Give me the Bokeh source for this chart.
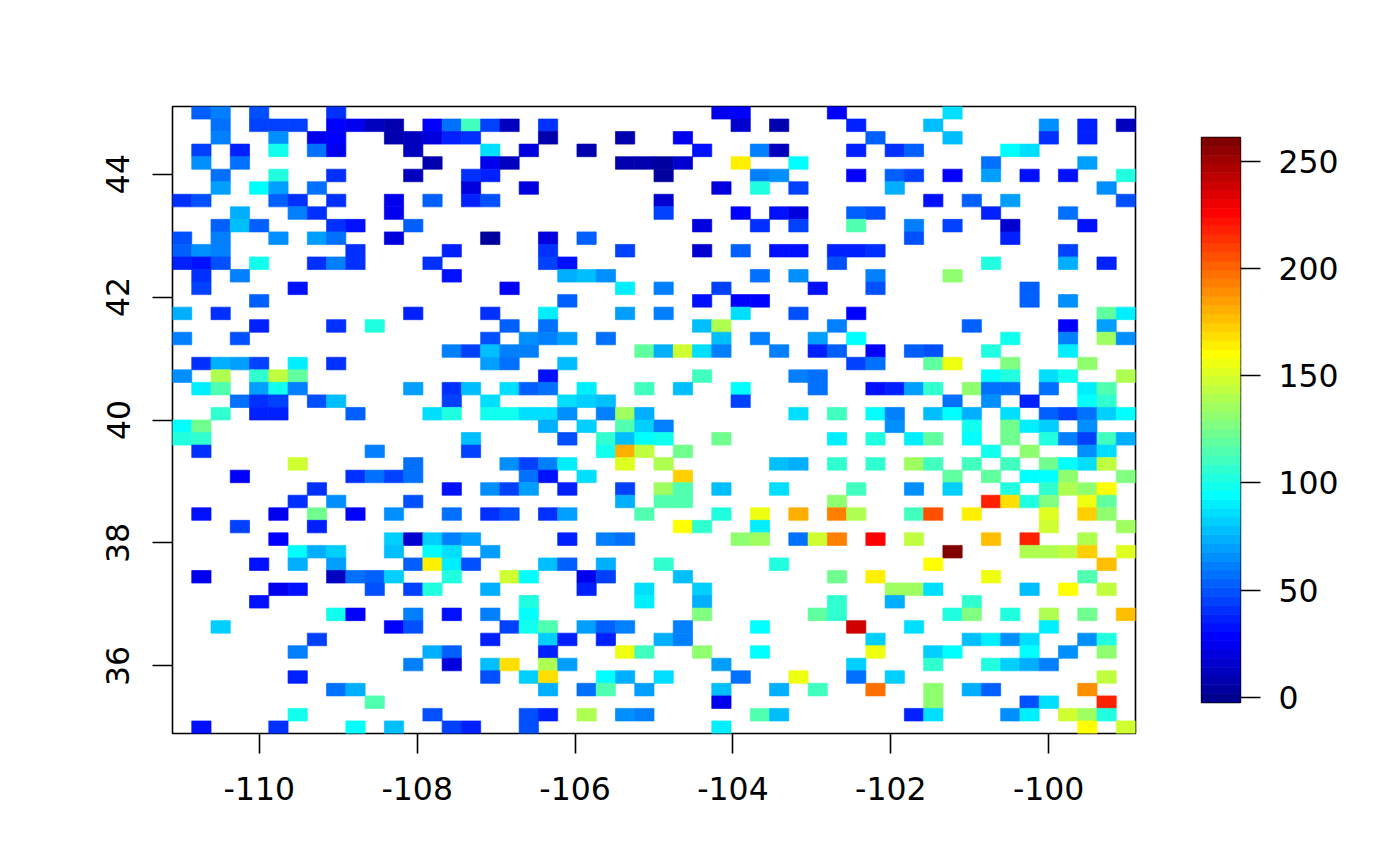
from bokeh.plotting import figure
from bokeh.layouts import row
from bokeh.models import LinearColorMapper, FixedTicker, ColumnDataSource, Range1d
from bokeh.embed import file_html
from bokeh.resources import INLINE

palette = ["#00008F","#00009F","#0000AF","#0000BF","#0000CF","#0000DF","#0000EF","#0000FF",
"#0010FF","#0020FF","#0030FF","#0040FF","#0050FF","#0060FF","#0070FF","#0080FF",
"#008FFF","#009FFF","#00AFFF","#00BFFF","#00CFFF","#00DFFF","#00EFFF","#00FFFF",
"#10FFEF","#20FFDF","#30FFCF","#40FFBF","#50FFAF","#60FF9F","#70FF8F","#80FF80",
"#8FFF70","#9FFF60","#AFFF50","#BFFF40","#CFFF30","#DFFF20","#EFFF10","#FFFF00",
"#FFEF00","#FFDF00","#FFCF00","#FFBF00","#FFAF00","#FF9F00","#FF8F00","#FF8000",
"#FF7000","#FF6000","#FF5000","#FF4000","#FF3000","#FF2000","#FF1000","#FF0000",
"#EF0000","#DF0000","#CF0000","#BF0000","#AF0000","#9F0000","#8F0000","#800000"]

z_low, z_high = -2.3, 261.0
x_ticks = [-110, -108, -106, -104, -102, -100]
y_ticks = [36, 38, 40, 42, 44]
z_ticks = [0, 50, 100, 150, 200, 250]

# (column, value) pairs; row_00 is the northernmost row
row_00 = [(1,53),(2,60),(4,49),(8,42),(28,24),(29,28),(34,28),(40,86)]
row_01 = [(2,57),(4,47),(5,47),(6,47),(8,28),(9,24),(10,13),(11,6),(13,28),(14,57),(15,111),(16,45),(17,13),(19,40),(29,16),(31,10),(35,37),(39,78),(45,66),(47,37),(49,13)]
row_02 = [(2,60),(5,65),(7,24),(8,30),(11,7),(12,13),(13,22),(14,37),(15,42),(19,7),(23,7),(26,24),(36,53),(40,79),(45,40),(47,37)]
row_03 = [(1,45),(3,37),(5,99),(7,57),(8,24),(12,13),(16,86),(18,20),(21,7),(27,33),(30,60),(31,13),(35,37),(37,41),(38,53),(43,94),(44,86)]
row_04 = [(1,66),(3,57),(13,10),(16,24),(17,13),(23,10),(24,8),(25,3),(26,16),(29,165),(32,94),(42,57),(47,70)]
row_05 = [(2,57),(5,103),(8,42),(12,13),(15,42),(16,36),(25,4),(30,61),(31,66),(35,28),(37,52),(38,43),(40,28),(42,70),(44,33),(46,31),(49,103)]
row_06 = [(2,70),(4,94),(5,70),(7,57),(15,20),(18,20),(28,22),(30,103),(32,45),(37,74),(48,66)]
row_07 = [(0,41),(1,49),(5,53),(6,40),(8,41),(11,25),(13,52),(15,35),(16,51),(25,16),(39,33),(41,53),(43,70),(49,49)]
row_08 = [(3,74),(6,61),(7,40),(11,25),(25,43),(29,29),(31,33),(32,21),(35,52),(36,49),(42,36),(46,57)]
row_09 = [(2,53),(3,78),(4,53),(8,40),(9,32),(12,53),(27,20),(30,40),(32,45),(35,115),(38,60),(40,44),(43,17),(47,32)]
row_10 = [(0,50),(2,62),(5,66),(7,71),(8,57),(11,20),(16,3),(19,20),(21,53),(38,49),(43,37)]
row_11 = [(0,53),(1,66),(2,61),(9,41),(14,37),(19,42),(23,45),(27,16),(29,53),(31,33),(32,33),(34,37),(35,36),(36,40),(46,45)]
row_12 = [(0,37),(1,34),(2,48),(4,99),(7,41),(8,61),(9,41),(13,41),(19,46),(20,31),(34,49),(42,103),(46,74),(48,38)]
row_13 = [(1,40),(3,61),(14,32),(20,74),(21,78),(22,66),(30,57),(32,66),(36,62),(40,132)]
row_14 = [(1,44),(6,33),(17,29),(23,90),(25,61),(28,44),(33,33),(36,50),(44,53)]
row_15 = [(4,53),(20,53),(27,32),(29,29),(30,28),(44,53),(46,66)]
row_16 = [(0,75),(2,42),(12,35),(16,42),(19,90),(23,71),(25,62),(29,85),(32,50),(35,30),(48,120),(49,90)]
row_17 = [(4,36),(8,41),(10,103),(17,53),(19,57),(27,78),(28,139),(34,61),(41,53),(46,29),(48,70)]
row_18 = [(0,61),(3,49),(16,50),(18,65),(19,63),(20,68),(22,56),(28,78),(30,60),(33,68),(35,94),(43,99),(46,60),(48,135),(49,65)]
row_19 = [(14,61),(15,44),(16,79),(17,63),(18,60),(24,120),(25,74),(26,148),(27,86),(28,60),(31,61),(33,36),(34,53),(36,30),(38,52),(39,51),(42,103),(46,90)]
row_20 = [(1,42),(2,74),(3,71),(4,45),(6,90),(8,40),(16,68),(17,57),(20,78),(35,44),(36,57),(39,120),(40,157),(43,128),(47,131)]
row_21 = [(0,66),(2,140),(4,107),(5,145),(6,120),(19,31),(27,110),(32,60),(33,56),(42,94),(43,102),(45,86),(46,99),(49,140)]
row_22 = [(1,90),(2,115),(4,70),(5,100),(6,60),(12,71),(14,42),(15,78),(17,85),(18,53),(19,58),(21,90),(24,110),(26,78),(29,94),(33,56),(36,31),(37,36),(38,68),(39,107),(41,131),(42,56),(43,59),(45,56),(47,90),(48,116)]
row_23 = [(3,56),(4,40),(5,44),(7,49),(8,78),(14,45),(16,86),(20,86),(21,82),(22,78),(29,44),(40,57),(42,64),(44,36),(47,94),(48,108)]
row_24 = [(2,106),(4,37),(5,36),(9,53),(13,86),(14,103),(16,99),(17,99),(18,85),(19,85),(20,64),(22,60),(23,135),(24,72),(32,85),(34,110),(36,94),(37,60),(39,78),(40,94),(41,73),(43,86),(45,53),(46,44),(47,57),(48,82),(49,94)]
row_25 = [(0,94),(1,124),(19,73),(21,82),(23,116),(24,81),(25,60),(37,67),(41,99),(43,124),(44,90),(45,80),(47,66)]
row_26 = [(0,103),(1,107),(15,78),(20,48),(22,106),(23,78),(24,95),(25,98),(28,124),(34,91),(36,102),(38,90),(39,120),(41,94),(43,124),(45,102),(46,62),(47,44),(48,109),(49,73)]
row_27 = [(1,42),(10,61),(15,44),(22,99),(23,181),(24,145),(26,124),(42,98),(44,130),(47,66),(48,86)]
row_28 = [(6,149),(12,57),(17,64),(18,46),(19,61),(20,90),(23,154),(25,139),(31,78),(32,75),(34,106),(36,106),(38,136),(39,110),(41,111),(43,111),(45,125),(46,94),(47,86),(48,145)]
row_29 = [(3,29),(9,40),(10,57),(11,45),(12,57),(18,58),(19,33),(21,85),(26,172),(40,119),(42,119),(44,94),(45,94),(46,132),(49,128)]
row_30 = [(7,40),(14,31),(16,64),(17,44),(18,68),(20,38),(23,44),(25,136),(26,116),(28,79),(31,85),(35,111),(38,64),(40,82),(43,102),(45,107),(46,140),(47,132),(48,160)]
row_31 = [(6,40),(8,64),(12,50),(23,73),(25,114),(26,115),(34,132),(42,218),(43,169),(44,102),(45,128),(47,157),(48,119)]
row_32 = [(1,32),(5,26),(7,123),(9,30),(11,66),(14,57),(16,41),(17,49),(19,40),(20,70),(24,115),(28,102),(30,157),(32,181),(34,193),(35,140),(38,110),(39,206),(41,164),(45,153),(47,173),(48,132)]
row_33 = [(3,45),(7,37),(26,161),(27,107),(30,90),(45,149),(49,136)]
row_34 = [(5,30),(11,81),(12,17),(13,80),(14,63),(15,69),(20,37),(22,62),(23,57),(29,130),(30,135),(32,57),(33,146),(34,192),(36,226),(38,145),(42,177),(44,218),(47,141)]
row_35 = [(6,94),(7,73),(8,81),(11,77),(13,94),(14,86),(16,69),(40,259),(44,140),(45,140),(46,144),(47,172),(49,153)]
row_36 = [(4,33),(6,73),(8,69),(12,53),(13,166),(14,90),(15,49),(19,79),(20,53),(22,72),(25,106),(31,102),(39,161),(48,177)]
row_37 = [(1,26),(8,13),(9,58),(10,53),(11,81),(14,103),(17,149),(18,94),(21,24),(22,45),(26,78),(34,124),(36,165),(42,158),(47,115)]
row_38 = [(5,26),(6,32),(10,50),(12,45),(13,102),(16,73),(21,37),(24,86),(27,82),(37,136),(38,135),(39,86),(44,78),(46,160),(48,145)]
row_39 = [(4,32),(18,103),(24,90),(27,75),(34,108),(37,74),(41,106)]
row_40 = [(8,98),(9,28),(12,61),(14,32),(16,61),(18,94),(27,128),(33,120),(34,107),(40,104),(41,127),(43,102),(45,140),(47,124),(49,177)]
row_41 = [(2,82),(11,29),(12,50),(17,44),(18,99),(19,116),(21,69),(22,52),(23,62),(26,63),(30,94),(35,238),(38,86),(45,91)]
row_42 = [(7,45),(16,36),(19,81),(20,36),(22,38),(25,73),(26,63),(36,81),(41,77),(42,90),(43,66),(44,86),(47,65),(48,103)]
row_43 = [(6,61),(13,73),(14,52),(19,36),(23,158),(24,110),(27,132),(30,94),(36,157),(39,80),(40,94),(44,94),(46,65),(48,132)]
row_44 = [(12,61),(14,20),(16,78),(17,169),(19,140),(20,69),(28,69),(35,81),(39,107),(42,102),(43,82),(44,73),(45,62)]
row_45 = [(6,37),(16,50),(18,82),(19,169),(22,94),(23,74),(25,86),(29,57),(32,158),(35,57),(37,81),(48,145)]
row_46 = [(8,57),(9,74),(19,73),(21,57),(22,116),(24,69),(28,78),(31,74),(33,111),(36,198),(39,132),(41,73),(42,53),(47,189)]
row_47 = [(10,116),(28,25),(39,132),(44,50),(45,85),(48,218)]
row_48 = [(6,99),(13,50),(18,49),(19,38),(21,140),(23,65),(24,61),(30,116),(31,78),(38,37),(39,86),(43,65),(44,90),(46,148),(47,135),(48,102)]
row_49 = [(1,32),(5,40),(9,94),(11,78),(14,45),(15,38),(18,49),(28,90),(47,160),(49,149)]

rows = [row_00,row_01,row_02,row_03,row_04,row_05,row_06,row_07,row_08,row_09,
        row_10,row_11,row_12,row_13,row_14,row_15,row_16,row_17,row_18,row_19,
        row_20,row_21,row_22,row_23,row_24,row_25,row_26,row_27,row_28,row_29,
        row_30,row_31,row_32,row_33,row_34,row_35,row_36,row_37,row_38,row_39,
        row_40,row_41,row_42,row_43,row_44,row_45,row_46,row_47,row_48,row_49]

lon_min, lon_max, lat_min, lat_max = -111.1, -98.9, 34.9, 45.1
n_cells = 50
dx = (lon_max - lon_min) / n_cells
dy = (lat_max - lat_min) / n_cells

left, right, top, bottom, vals = [], [], [], [], []
for r, cells in enumerate(rows):
    for c, v in cells:
        left.append(lon_min + c * dx)
        right.append(lon_min + (c + 1) * dx)
        top.append(lat_max - r * dy)
        bottom.append(lat_max - (r + 1) * dy)
        vals.append(v)

mapper = LinearColorMapper(palette=palette, low=z_low, high=z_high)
FONT = "DejaVu Sans"
SIZE = "31.5px"

p = figure(width=1158, height=860, output_backend="svg", toolbar_location=None,
           x_range=Range1d(lon_min, lon_max), y_range=Range1d(lat_min, lat_max),
           min_border_left=172, min_border_right=23, min_border_top=106, min_border_bottom=127)
p.frame_align = False
p.quad(left="left", right="right", top="top", bottom="bottom",
       source=ColumnDataSource(dict(left=left, right=right, top=top, bottom=bottom, v=vals)),
       fill_color={"field": "v", "transform": mapper},
       line_color={"field": "v", "transform": mapper}, line_width=0.7)
p.grid.visible = False
p.outline_line_color = "black"
p.outline_line_width = 1.6
p.outline_line_alpha = 1

for ax, ticks in ((p.xaxis[0], x_ticks), (p.yaxis[0], y_ticks)):
    ax.ticker = FixedTicker(ticks=ticks)
    ax.major_label_overrides = {t: str(t) for t in ticks}
    ax.axis_line_color = None
    ax.major_tick_line_color = "black"
    ax.major_tick_line_width = 1.6
    ax.major_tick_in = 0
    ax.major_tick_out = 20
    ax.minor_tick_line_color = None
    ax.major_label_text_font = FONT
    ax.major_label_text_font_size = SIZE
    ax.major_label_text_color = "black"
p.xaxis[0].major_label_standoff = 23
p.yaxis[0].major_label_standoff = 23
p.yaxis[0].major_label_orientation = "vertical"

# colour bar drawn as its own figure from the palette
n = len(palette)
step = (z_high - z_low) / n
cb = figure(width=234, height=860, output_backend="svg", toolbar_location=None,
            x_range=Range1d(0, 1), y_range=Range1d(z_low, z_high),
            y_axis_location="right",
            min_border_left=43, min_border_right=152, min_border_top=137, min_border_bottom=158)
cb.frame_align = False
cb.quad(left=0, right=1,
        bottom=[z_low + i * step for i in range(n)],
        top=[z_low + (i + 1) * step for i in range(n)],
        fill_color=palette, line_color=palette, line_width=0.7)
cb.grid.visible = False
cb.xaxis.visible = False
cb.outline_line_color = "black"
cb.outline_line_width = 1.4
ax = cb.yaxis[0]
ax.ticker = FixedTicker(ticks=z_ticks)
ax.major_label_overrides = {t: str(t) for t in z_ticks}
ax.axis_line_color = None
ax.major_tick_line_color = "black"
ax.major_tick_line_width = 1.6
ax.major_tick_in = 0
ax.major_tick_out = 20
ax.minor_tick_line_color = None
ax.major_label_text_font = FONT
ax.major_label_text_font_size = SIZE
ax.major_label_text_color = "black"
ax.major_label_standoff = 18

page = row(p, cb, spacing=0)
open("out.html", "w").write(file_html(page, INLINE))
